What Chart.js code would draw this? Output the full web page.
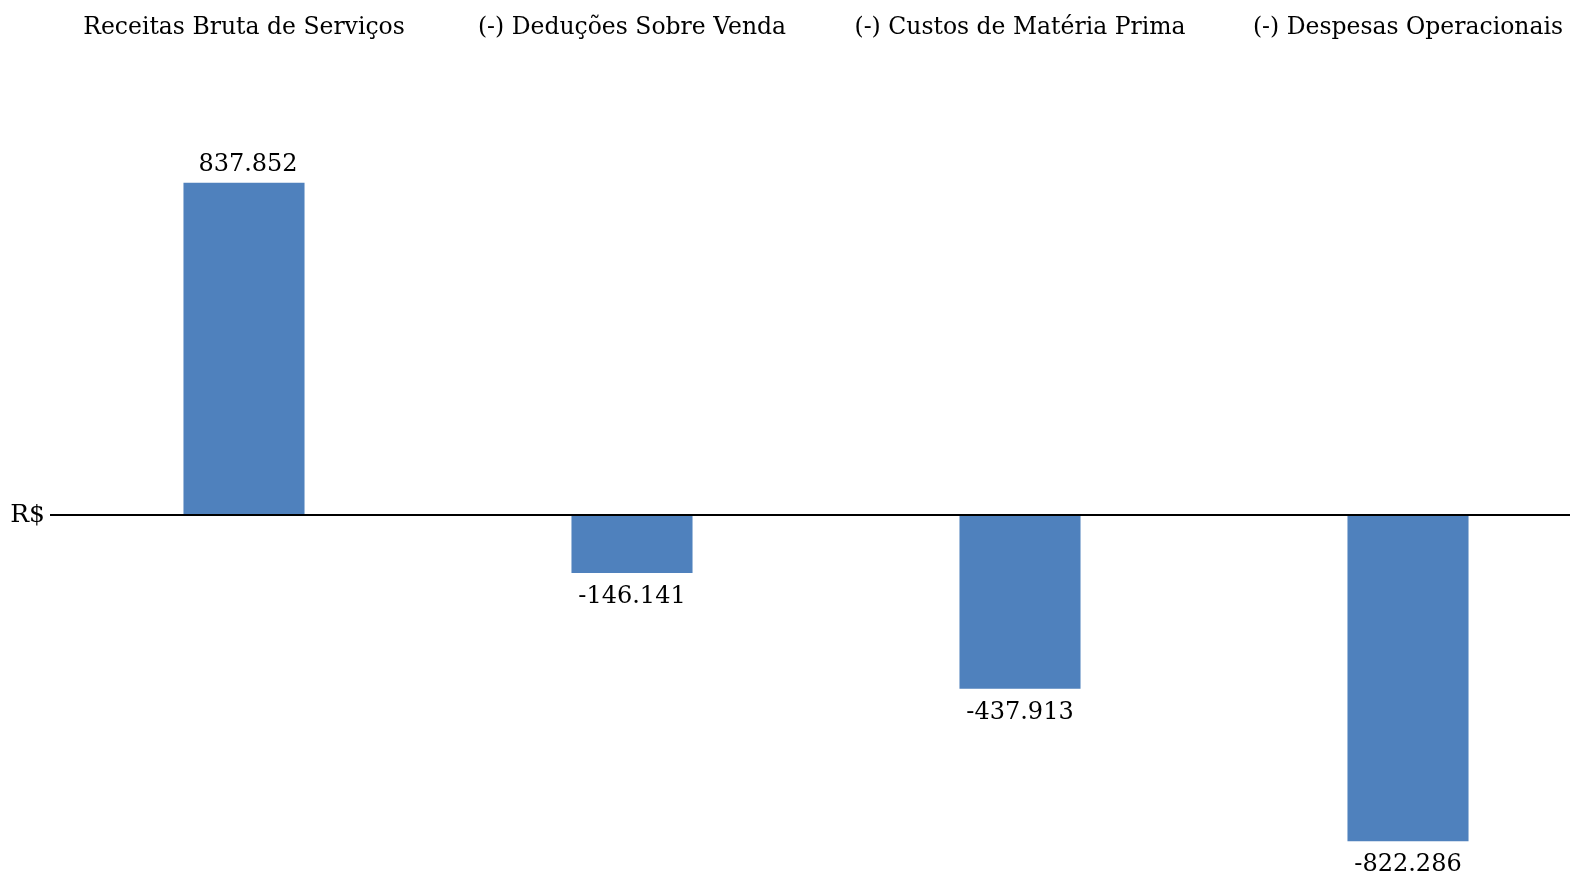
<!DOCTYPE html>
<html>
<head>
<meta charset="utf-8">
<script src="https://cdn.jsdelivr.net/npm/chart.js@4/dist/chart.umd.min.js"></script>
<style>
  html, body { margin: 0; padding: 0; background: #fff; overflow: hidden; }
  #wrap { width: 1602px; height: 879px; }
</style>
</head>
<body>
<div id="wrap"><canvas id="grafico"></canvas></div>
<script>
// dados do DRE
var categorias = ['Receitas Bruta de Serviços', '(-) Deduções Sobre Venda', '(-) Custos de Matéria Prima', '(-) Despesas Operacionais']
var valores = [837852, -146141, -437913, -822286]
var rotuloEixo = 'R$'

var fonte = "'DejaVu Serif', 'Liberation Serif', serif"

function formatar(v){
    var s = Math.abs(v).toString().replace(/\B(?=(\d{3})+(?!\d))/g, '.')
    return (v < 0 ? '-' : '') + s
}

// rótulos de valor em cima/embaixo das barras
const rotulos = {
    id: 'rotulos',
    afterDatasetsDraw(chart){
        const ctx = chart.ctx
        const meta = chart.getDatasetMeta(0)
        ctx.save()
        ctx.font = '24px ' + fonte
        ctx.fillStyle = '#000'
        ctx.textAlign = 'center'
        meta.data.forEach(function(bar, i){
            var v = valores[i]
            if (v >= 0){
                ctx.textBaseline = 'bottom'
                ctx.fillText(formatar(v), bar.x + 4, bar.y - 6)
            } else {
                ctx.textBaseline = 'top'
                ctx.fillText(formatar(v), bar.x, bar.y + 12)
            }
        })
        ctx.restore()
    }
}

Chart.defaults.font.family = fonte
Chart.defaults.color = '#000'

const ctx = document.getElementById('grafico');
const myChart = new Chart(ctx, {
    type: 'bar',
    data: {
        labels: categorias,
        datasets: [{
            data: valores,
            backgroundColor: '#4F81BD',
            borderWidth: 0,
            barPercentage: 0.52,
            categoryPercentage: 0.6
        }]
    },
    options: {
        responsive: true,
        maintainAspectRatio: false,
        animation: false,
        layout: { padding: { top: 0, bottom: 7, right: 0, left: 0 } },
        plugins: {
            legend: { display: false },
            tooltip: { enabled: false }
        },
        scales: {
            x: {
                position: 'top',
                grid: { display: false, drawTicks: false },
                border: { display: false },
                ticks: { font: { size: 23.5 }, padding: 116, maxRotation: 0, autoSkip: false },
                afterFit: function(axis){
                    axis.height = 158
                    axis.paddingLeft = 0
                    axis.paddingRight = 0
                }
            },
            y: {
                min: -900000,
                max: 900000,
                afterBuildTicks: function(axis){ axis.ticks = [{ value: 0 }] },
                afterFit: function(axis){
                    axis.width = 50
                    axis.paddingTop = 0
                    axis.paddingBottom = 0
                },
                grid: { color: '#000', lineWidth: 2, drawTicks: false },
                border: { display: false },
                ticks: {
                    font: { size: 25 },
                    padding: 5,
                    callback: function(v){ return v === 0 ? rotuloEixo : '' }
                }
            }
        }
    },
    plugins: [rotulos]
});
</script>
</body>
</html>
